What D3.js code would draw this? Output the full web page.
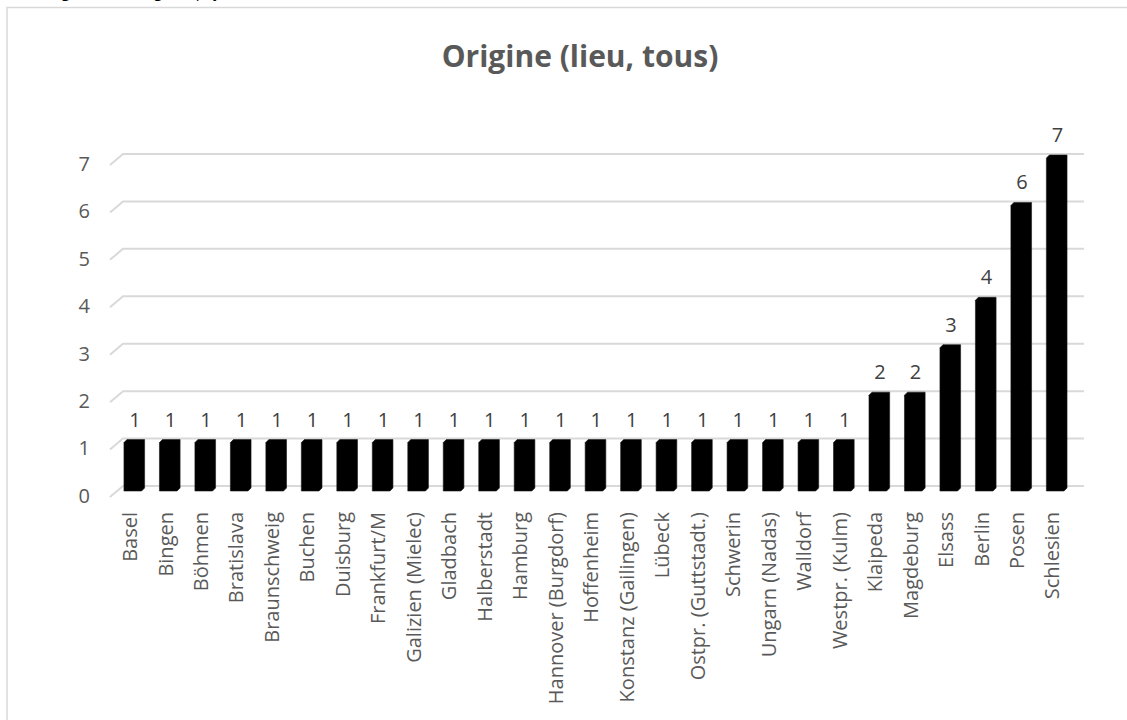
<!DOCTYPE html>
<html>
<head>
<meta charset="utf-8">
<script src="https://cdn.jsdelivr.net/npm/d3@7"></script>
<style>
  body { margin: 0; background: #fff; }
  text { font-family: "Open Sans", "DejaVu Sans", sans-serif; }
</style>
</head>
<body>
<div id="chart"></div>
<script>
// Data
const categories = ["Basel", "Bingen", "Böhmen", "Bratislava", "Braunschweig", "Buchen", "Duisburg",
  "Frankfurt/M", "Galizien (Mielec)", "Gladbach", "Halberstadt", "Hamburg", "Hannover (Burgdorf)",
  "Hoffenheim", "Konstanz (Gailingen)", "Lübeck", "Ostpr. (Guttstadt.)", "Schwerin", "Ungarn (Nadas)",
  "Walldorf", "Westpr. (Kulm)", "Klaipeda", "Magdeburg", "Elsass", "Berlin", "Posen", "Schlesien"];
const counts = [1, 1, 1, 1, 1, 1, 1, 1, 1, 1, 1, 1, 1, 1, 1, 1, 1, 1, 1, 1, 1, 2, 2, 3, 4, 6, 7];
const yTicks = [0, 1, 2, 3, 4, 5, 6, 7];
const title = "Origine (lieu, tous)";

const data = categories.map((c, i) => ({ name: c, value: counts[i] }));

const W = 1127, H = 720;
const depthX = 13, depthY = 11;   // 3D floor offset for gridlines
const d = 3;                      // bar bevel

const svg = d3.select("#chart").append("svg")
  .attr("width", W).attr("height", H);

// chart frame
svg.append("rect")
  .attr("x", 7).attr("y", 7.5)
  .attr("width", W + 20).attr("height", H + 20)
  .attr("fill", "#fff").attr("stroke", "#d9d9d9").attr("stroke-width", 1.5);

// text of the sheet above, cut off by the window
svg.append("text")
  .attr("x", 40).attr("y", -3)
  .attr("font-size", 15).attr("fill", "#000")
  .text("Origine (lieu, Origine, (pays))");

const x = d3.scaleBand()
  .domain(categories)
  .range([117.3, 1075.2])
  .paddingInner(0.46)
  .paddingOuter(0.23);

const y = d3.scaleLinear()
  .domain([0, 7])
  .range([486, 154]);

// gridlines with 3D floor diagonal
const grid = svg.append("g");
yTicks.forEach(t => {
  const yy = y(t);
  grid.append("path")
    .attr("d", `M110,${yy + depthY} L${110 + depthX},${yy} L1084,${yy}`)
    .attr("fill", "none")
    .attr("stroke", "#d9d9d9")
    .attr("stroke-width", 2);
});

// y axis labels
const yAxis = svg.append("g")
  .attr("transform", `translate(90,10)`)
  .call(d3.axisLeft(y).tickValues(yTicks).tickFormat(d3.format("d")).tickSize(0).tickPadding(0));
yAxis.select(".domain").remove();
yAxis.selectAll("text")
  .attr("font-size", 20)
  .attr("fill", "#595959")
  .style("font-family", "'Open Sans', sans-serif");

// bars (front face plus a small bevel toward the back)
const bottom = y(0) + 5;
svg.selectAll(".bar")
  .data(data)
  .enter()
  .append("path")
  .attr("class", "bar")
  .attr("fill", "#000")
  .attr("stroke", "#1a1a1a")
  .attr("stroke-width", 0.6)
  .attr("d", dd => {
    const x0 = x(dd.name) - d / 2;
    const w = x.bandwidth() - d / 2;
    const top = y(dd.value) + 1 + d;
    return `M${x0},${bottom} L${x0},${top} L${x0 + d},${top - d} L${x0 + w + d},${top - d}` +
      ` L${x0 + w + d},${bottom - d} L${x0 + w},${bottom} Z`;
  });

// value labels
svg.selectAll(".val")
  .data(data)
  .enter()
  .append("text")
  .attr("class", "val")
  .attr("x", dd => x(dd.name) + x.bandwidth() / 2)
  .attr("y", dd => y(dd.value) - 12)
  .attr("text-anchor", "middle")
  .attr("font-size", 20)
  .attr("fill", "#404040")
  .text(dd => dd.value);

// x axis labels, rotated
const xAxis = svg.append("g")
  .attr("transform", `translate(-5,512)`)
  .call(d3.axisBottom(x).tickSize(0).tickPadding(0));
xAxis.select(".domain").remove();
xAxis.selectAll("text")
  .attr("transform", "rotate(-90)")
  .attr("text-anchor", "end")
  .attr("x", 0)
  .attr("y", 0)
  .attr("dy", "0.35em")
  .attr("font-size", 20)
  .attr("fill", "#595959")
  .style("font-family", "'Open Sans', sans-serif");

// title
svg.append("text")
  .attr("x", 580).attr("y", 67)
  .attr("text-anchor", "middle")
  .attr("font-size", 30)
  .attr("font-weight", "bold")
  .attr("fill", "#595959")
  .text(title);
</script>
</body>
</html>
